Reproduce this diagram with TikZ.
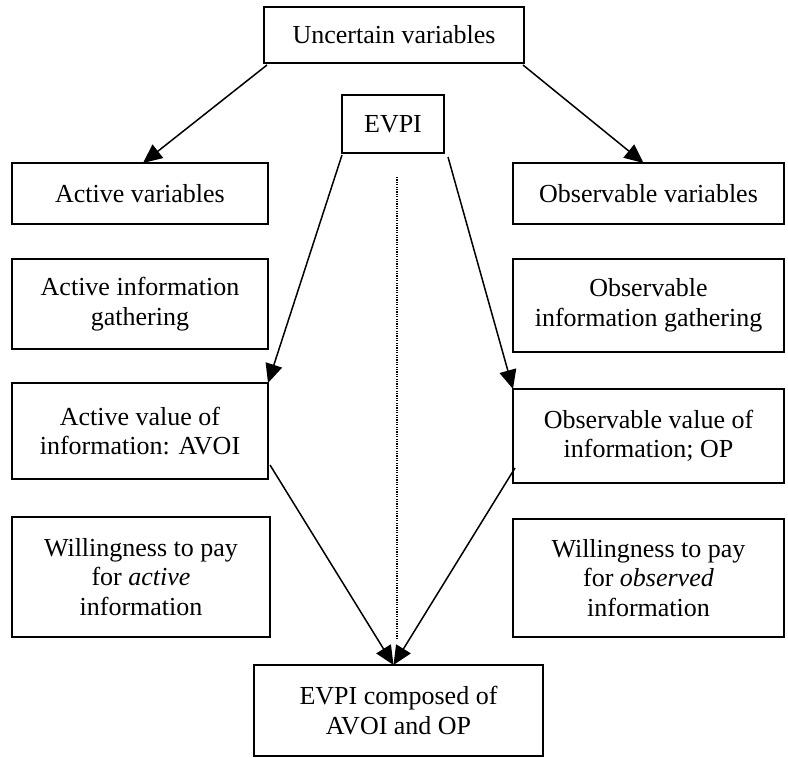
\documentclass[tikz,border=0pt]{standalone}
\usepackage{fontspec}
\setmainfont{Liberation Serif}
\usetikzlibrary{arrows.meta,calc}
\begin{document}
\begin{tikzpicture}[x=1pt,y=-1pt,
  box/.style={draw,line width=1.5pt,inner sep=0pt,outer sep=0pt,align=center,font=\fontsize{26}{29.5}\selectfont},
  conn/.style={line width=1.5pt,-{Triangle[length=19pt,width=17pt]}},
  dots/.style={line width=1.1pt,dash pattern=on 1.2pt off 1.2pt}]
\useasboundingbox (0,0) rectangle (788,758);
\node[box,minimum width=260pt,minimum height=56pt] (unc) at (394,35) {Uncertain variables};
\node[box,minimum width=102pt,minimum height=58pt] (evpi) at (393,124) {EVPI};
\node[box,minimum width=256pt,minimum height=61pt] (actv) at (140,193.5) {Active variables};
\node[box,minimum width=271pt,minimum height=61pt] (obsv) at (648.5,193.5) {Observable variables};
\node[box,minimum width=256pt,minimum height=90pt] (ainf) at (140,304) {Active information\\gathering};
\node[box,minimum width=271pt,minimum height=93pt] (oinf) at (648.5,305.5) {Observable\\information gathering};
\node[box,minimum width=256pt,minimum height=96pt] (aval) at (140,431) {Active value of\\information: AVOI};
\node[box,minimum width=271pt,minimum height=94pt] (oval) at (648.5,436) {Observable value of\\information; OP};
\node[box,minimum width=258pt,minimum height=120pt] (awil) at (141,577) {Willingness to pay\\for \textit{active}\\information};
\node[box,minimum width=271pt,minimum height=118pt] (owil) at (648.5,578) {Willingness to pay\\for \textit{observed}\\information};
\node[box,minimum width=289pt,minimum height=91pt] (comp) at (398.5,710.5) {EVPI composed of\\AVOI and OP};
\coordinate (dtop) at (397,177);
\coordinate (dbot) at (397,640);
\draw[dots] (dtop) -- (dbot);
\draw[conn] ($(unc.south west)+(3,2)$) -- ($(actv.north)+(3,0)$);
\draw[conn] ($(unc.south east)+(-1,2)$) -- ($(obsv.north)+(-5,0)$);
\draw[conn] ($(evpi.south west)+(0,2)$) -- (aval.north east);
\draw[conn] ($(evpi.south east)+(4,4)$) -- (oval.north west);
\draw[conn] ($(aval.south east)+(2,-14)$) -- ($(comp.north)+(-5,0)$);
\draw[conn] ($(oval.south west)+(2,-15)$) -- ($(comp.north)+(-5,0)$);
\end{tikzpicture}
\end{document}
